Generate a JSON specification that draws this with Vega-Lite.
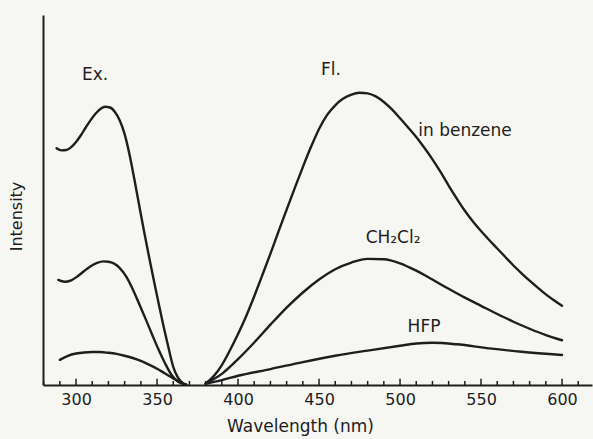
{
  "$schema": "https://vega.github.io/schema/vega-lite/v6.json",
  "width": 549,
  "height": 370,
  "autosize": {"type": "none"},
  "padding": {"left": 43, "top": 15, "right": 1, "bottom": 54},
  "background": "#f6f6f3",
  "config": {"view": {"stroke": null}, "font": "DejaVu Sans"},
  "datasets": {
    "spectra": [
      {"curve": "Ex benzene", "wavelength": 288, "intensity": 64.0},
      {"curve": "Ex benzene", "wavelength": 291, "intensity": 63.4},
      {"curve": "Ex benzene", "wavelength": 294, "intensity": 63.5},
      {"curve": "Ex benzene", "wavelength": 297, "intensity": 64.3},
      {"curve": "Ex benzene", "wavelength": 300, "intensity": 65.7},
      {"curve": "Ex benzene", "wavelength": 303, "intensity": 67.5},
      {"curve": "Ex benzene", "wavelength": 306, "intensity": 69.6},
      {"curve": "Ex benzene", "wavelength": 309, "intensity": 71.6},
      {"curve": "Ex benzene", "wavelength": 312, "intensity": 73.3},
      {"curve": "Ex benzene", "wavelength": 315, "intensity": 74.6},
      {"curve": "Ex benzene", "wavelength": 318, "intensity": 75.2},
      {"curve": "Ex benzene", "wavelength": 321, "intensity": 75.0},
      {"curve": "Ex benzene", "wavelength": 324, "intensity": 73.8},
      {"curve": "Ex benzene", "wavelength": 327, "intensity": 71.5},
      {"curve": "Ex benzene", "wavelength": 330, "intensity": 67.8},
      {"curve": "Ex benzene", "wavelength": 333, "intensity": 62.3},
      {"curve": "Ex benzene", "wavelength": 336, "intensity": 55.6},
      {"curve": "Ex benzene", "wavelength": 339, "intensity": 48.5},
      {"curve": "Ex benzene", "wavelength": 342, "intensity": 41.5},
      {"curve": "Ex benzene", "wavelength": 345, "intensity": 34.8},
      {"curve": "Ex benzene", "wavelength": 348, "intensity": 28.3},
      {"curve": "Ex benzene", "wavelength": 351, "intensity": 22.0},
      {"curve": "Ex benzene", "wavelength": 354, "intensity": 15.9},
      {"curve": "Ex benzene", "wavelength": 357, "intensity": 10.2},
      {"curve": "Ex benzene", "wavelength": 360, "intensity": 4.9},
      {"curve": "Ex benzene", "wavelength": 363, "intensity": 1.9},
      {"curve": "Ex benzene", "wavelength": 366, "intensity": 0.5},
      {"curve": "Ex benzene", "wavelength": 368, "intensity": 0.1},

      {"curve": "Ex CH2Cl2", "wavelength": 289, "intensity": 28.4},
      {"curve": "Ex CH2Cl2", "wavelength": 293, "intensity": 27.9},
      {"curve": "Ex CH2Cl2", "wavelength": 297, "intensity": 28.3},
      {"curve": "Ex CH2Cl2", "wavelength": 301, "intensity": 29.4},
      {"curve": "Ex CH2Cl2", "wavelength": 305, "intensity": 30.8},
      {"curve": "Ex CH2Cl2", "wavelength": 309, "intensity": 32.1},
      {"curve": "Ex CH2Cl2", "wavelength": 313, "intensity": 33.0},
      {"curve": "Ex CH2Cl2", "wavelength": 317, "intensity": 33.4},
      {"curve": "Ex CH2Cl2", "wavelength": 320, "intensity": 33.3},
      {"curve": "Ex CH2Cl2", "wavelength": 324, "intensity": 32.7},
      {"curve": "Ex CH2Cl2", "wavelength": 327, "intensity": 31.6},
      {"curve": "Ex CH2Cl2", "wavelength": 331, "intensity": 29.3},
      {"curve": "Ex CH2Cl2", "wavelength": 335, "intensity": 25.9},
      {"curve": "Ex CH2Cl2", "wavelength": 339, "intensity": 21.9},
      {"curve": "Ex CH2Cl2", "wavelength": 343, "intensity": 17.8},
      {"curve": "Ex CH2Cl2", "wavelength": 347, "intensity": 13.6},
      {"curve": "Ex CH2Cl2", "wavelength": 351, "intensity": 9.5},
      {"curve": "Ex CH2Cl2", "wavelength": 355, "intensity": 5.8},
      {"curve": "Ex CH2Cl2", "wavelength": 359, "intensity": 2.7},
      {"curve": "Ex CH2Cl2", "wavelength": 363, "intensity": 0.9},
      {"curve": "Ex CH2Cl2", "wavelength": 368, "intensity": 0.1},

      {"curve": "Ex HFP", "wavelength": 290, "intensity": 6.8},
      {"curve": "Ex HFP", "wavelength": 295, "intensity": 7.9},
      {"curve": "Ex HFP", "wavelength": 300, "intensity": 8.5},
      {"curve": "Ex HFP", "wavelength": 305, "intensity": 8.8},
      {"curve": "Ex HFP", "wavelength": 310, "intensity": 8.9},
      {"curve": "Ex HFP", "wavelength": 315, "intensity": 8.9},
      {"curve": "Ex HFP", "wavelength": 320, "intensity": 8.7},
      {"curve": "Ex HFP", "wavelength": 325, "intensity": 8.4},
      {"curve": "Ex HFP", "wavelength": 330, "intensity": 7.9},
      {"curve": "Ex HFP", "wavelength": 335, "intensity": 7.3},
      {"curve": "Ex HFP", "wavelength": 340, "intensity": 6.5},
      {"curve": "Ex HFP", "wavelength": 345, "intensity": 5.5},
      {"curve": "Ex HFP", "wavelength": 350, "intensity": 4.4},
      {"curve": "Ex HFP", "wavelength": 355, "intensity": 3.1},
      {"curve": "Ex HFP", "wavelength": 360, "intensity": 1.8},
      {"curve": "Ex HFP", "wavelength": 364, "intensity": 0.8},
      {"curve": "Ex HFP", "wavelength": 368, "intensity": 0.1},

      {"curve": "Fl benzene", "wavelength": 380, "intensity": 0.4},
      {"curve": "Fl benzene", "wavelength": 385, "intensity": 2.4},
      {"curve": "Fl benzene", "wavelength": 390, "intensity": 5.4},
      {"curve": "Fl benzene", "wavelength": 395, "intensity": 9.4},
      {"curve": "Fl benzene", "wavelength": 400, "intensity": 13.8},
      {"curve": "Fl benzene", "wavelength": 405, "intensity": 18.6},
      {"curve": "Fl benzene", "wavelength": 410, "intensity": 24.0},
      {"curve": "Fl benzene", "wavelength": 415, "intensity": 29.7},
      {"curve": "Fl benzene", "wavelength": 420, "intensity": 35.5},
      {"curve": "Fl benzene", "wavelength": 425, "intensity": 41.5},
      {"curve": "Fl benzene", "wavelength": 430, "intensity": 47.4},
      {"curve": "Fl benzene", "wavelength": 435, "intensity": 53.2},
      {"curve": "Fl benzene", "wavelength": 440, "intensity": 58.9},
      {"curve": "Fl benzene", "wavelength": 445, "intensity": 64.3},
      {"curve": "Fl benzene", "wavelength": 450, "intensity": 69.2},
      {"curve": "Fl benzene", "wavelength": 455, "intensity": 73.0},
      {"curve": "Fl benzene", "wavelength": 460, "intensity": 75.6},
      {"curve": "Fl benzene", "wavelength": 465, "intensity": 77.4},
      {"curve": "Fl benzene", "wavelength": 470, "intensity": 78.5},
      {"curve": "Fl benzene", "wavelength": 475, "intensity": 79.0},
      {"curve": "Fl benzene", "wavelength": 480, "intensity": 78.8},
      {"curve": "Fl benzene", "wavelength": 485, "intensity": 78.0},
      {"curve": "Fl benzene", "wavelength": 490, "intensity": 76.5},
      {"curve": "Fl benzene", "wavelength": 495, "intensity": 74.5},
      {"curve": "Fl benzene", "wavelength": 500, "intensity": 72.1},
      {"curve": "Fl benzene", "wavelength": 505, "intensity": 69.6},
      {"curve": "Fl benzene", "wavelength": 510, "intensity": 67.0},
      {"curve": "Fl benzene", "wavelength": 515, "intensity": 64.1},
      {"curve": "Fl benzene", "wavelength": 520, "intensity": 61.0},
      {"curve": "Fl benzene", "wavelength": 525, "intensity": 57.6},
      {"curve": "Fl benzene", "wavelength": 530, "intensity": 53.9},
      {"curve": "Fl benzene", "wavelength": 535, "intensity": 50.4},
      {"curve": "Fl benzene", "wavelength": 540, "intensity": 47.1},
      {"curve": "Fl benzene", "wavelength": 545, "intensity": 44.2},
      {"curve": "Fl benzene", "wavelength": 550, "intensity": 41.6},
      {"curve": "Fl benzene", "wavelength": 555, "intensity": 39.2},
      {"curve": "Fl benzene", "wavelength": 560, "intensity": 36.9},
      {"curve": "Fl benzene", "wavelength": 565, "intensity": 34.6},
      {"curve": "Fl benzene", "wavelength": 570, "intensity": 32.3},
      {"curve": "Fl benzene", "wavelength": 575, "intensity": 30.2},
      {"curve": "Fl benzene", "wavelength": 580, "intensity": 28.2},
      {"curve": "Fl benzene", "wavelength": 585, "intensity": 26.3},
      {"curve": "Fl benzene", "wavelength": 590, "intensity": 24.5},
      {"curve": "Fl benzene", "wavelength": 595, "intensity": 22.9},
      {"curve": "Fl benzene", "wavelength": 600, "intensity": 21.4},

      {"curve": "Fl CH2Cl2", "wavelength": 380, "intensity": 0.4},
      {"curve": "Fl CH2Cl2", "wavelength": 390, "intensity": 3.0},
      {"curve": "Fl CH2Cl2", "wavelength": 400, "intensity": 7.0},
      {"curve": "Fl CH2Cl2", "wavelength": 410, "intensity": 11.5},
      {"curve": "Fl CH2Cl2", "wavelength": 420, "intensity": 16.3},
      {"curve": "Fl CH2Cl2", "wavelength": 430, "intensity": 20.9},
      {"curve": "Fl CH2Cl2", "wavelength": 440, "intensity": 25.0},
      {"curve": "Fl CH2Cl2", "wavelength": 450, "intensity": 28.5},
      {"curve": "Fl CH2Cl2", "wavelength": 460, "intensity": 31.3},
      {"curve": "Fl CH2Cl2", "wavelength": 470, "intensity": 33.1},
      {"curve": "Fl CH2Cl2", "wavelength": 480, "intensity": 34.1},
      {"curve": "Fl CH2Cl2", "wavelength": 490, "intensity": 34.0},
      {"curve": "Fl CH2Cl2", "wavelength": 500, "intensity": 32.9},
      {"curve": "Fl CH2Cl2", "wavelength": 510, "intensity": 30.9},
      {"curve": "Fl CH2Cl2", "wavelength": 520, "intensity": 28.5},
      {"curve": "Fl CH2Cl2", "wavelength": 530, "intensity": 26.0},
      {"curve": "Fl CH2Cl2", "wavelength": 540, "intensity": 23.6},
      {"curve": "Fl CH2Cl2", "wavelength": 550, "intensity": 21.4},
      {"curve": "Fl CH2Cl2", "wavelength": 560, "intensity": 19.2},
      {"curve": "Fl CH2Cl2", "wavelength": 570, "intensity": 17.1},
      {"curve": "Fl CH2Cl2", "wavelength": 580, "intensity": 15.2},
      {"curve": "Fl CH2Cl2", "wavelength": 590, "intensity": 13.5},
      {"curve": "Fl CH2Cl2", "wavelength": 600, "intensity": 12.1},

      {"curve": "Fl HFP", "wavelength": 380, "intensity": 0.3},
      {"curve": "Fl HFP", "wavelength": 390, "intensity": 1.3},
      {"curve": "Fl HFP", "wavelength": 400, "intensity": 2.5},
      {"curve": "Fl HFP", "wavelength": 420, "intensity": 4.3},
      {"curve": "Fl HFP", "wavelength": 440, "intensity": 6.2},
      {"curve": "Fl HFP", "wavelength": 460, "intensity": 7.9},
      {"curve": "Fl HFP", "wavelength": 480, "intensity": 9.3},
      {"curve": "Fl HFP", "wavelength": 500, "intensity": 10.6},
      {"curve": "Fl HFP", "wavelength": 510, "intensity": 11.2},
      {"curve": "Fl HFP", "wavelength": 520, "intensity": 11.4},
      {"curve": "Fl HFP", "wavelength": 535, "intensity": 11.0},
      {"curve": "Fl HFP", "wavelength": 555, "intensity": 9.9},
      {"curve": "Fl HFP", "wavelength": 575, "intensity": 9.0},
      {"curve": "Fl HFP", "wavelength": 600, "intensity": 8.1}
    ],
    "ticks": [
      {"wavelength": 280, "kind": "minor"}, {"wavelength": 290, "kind": "minor"},
      {"wavelength": 300, "kind": "major"}, {"wavelength": 310, "kind": "minor"},
      {"wavelength": 320, "kind": "minor"}, {"wavelength": 330, "kind": "minor"},
      {"wavelength": 340, "kind": "minor"}, {"wavelength": 350, "kind": "major"},
      {"wavelength": 360, "kind": "minor"}, {"wavelength": 370, "kind": "minor"},
      {"wavelength": 380, "kind": "minor"}, {"wavelength": 390, "kind": "minor"},
      {"wavelength": 400, "kind": "major"}, {"wavelength": 410, "kind": "minor"},
      {"wavelength": 420, "kind": "minor"}, {"wavelength": 430, "kind": "minor"},
      {"wavelength": 440, "kind": "minor"}, {"wavelength": 450, "kind": "major"},
      {"wavelength": 460, "kind": "minor"}, {"wavelength": 470, "kind": "minor"},
      {"wavelength": 480, "kind": "minor"}, {"wavelength": 490, "kind": "minor"},
      {"wavelength": 500, "kind": "major"}, {"wavelength": 510, "kind": "minor"},
      {"wavelength": 520, "kind": "minor"}, {"wavelength": 530, "kind": "minor"},
      {"wavelength": 540, "kind": "minor"}, {"wavelength": 550, "kind": "major"},
      {"wavelength": 560, "kind": "minor"}, {"wavelength": 570, "kind": "minor"},
      {"wavelength": 580, "kind": "minor"}, {"wavelength": 590, "kind": "minor"},
      {"wavelength": 600, "kind": "major"}, {"wavelength": 610, "kind": "minor"}
    ],
    "labels": [
      {"label": "Ex.", "wavelength": 311.7, "intensity": 83.8},
      {"label": "Fl.", "wavelength": 457.4, "intensity": 85.1},
      {"label": "in benzene", "wavelength": 540.1, "intensity": 68.6},
      {"label": "CH₂Cl₂", "wavelength": 495.7, "intensity": 39.7},
      {"label": "HFP", "wavelength": 514.8, "intensity": 15.8}
    ]
  },
  "layer": [
    {
      "data": {"name": "spectra"},
      "mark": {"type": "line", "interpolate": "monotone", "color": "#1e1e1e", "strokeWidth": 2.4, "strokeCap": "round"},
      "encoding": {
        "x": {
          "field": "wavelength",
          "type": "quantitative",
          "scale": {"domain": [279.6, 618.5], "nice": false, "zero": false},
          "axis": {
            "values": [300, 350, 400, 450, 500, 550, 600],
            "ticks": false,
            "domainColor": "#1e1e1e",
            "domainWidth": 2,
            "grid": false,
            "labelFontSize": 16,
            "labelColor": "#1e1e1e",
            "labelPadding": 6,
            "labelOverlap": false,
            "labelFlush": false,
            "title": "Wavelength (nm)",
            "titleFontSize": 17,
            "titleFontWeight": "normal",
            "titleColor": "#1e1e1e",
            "titleX": 257,
            "titleY": 41,
            "titleBaseline": "middle"
          }
        },
        "y": {
          "field": "intensity",
          "type": "quantitative",
          "scale": {"domain": [0, 100], "nice": false},
          "axis": {
            "ticks": false,
            "labels": false,
            "grid": false,
            "domainColor": "#1e1e1e",
            "domainWidth": 2,
            "title": "Intensity",
            "titleFontSize": 16,
            "titleFontWeight": "normal",
            "titleColor": "#1e1e1e",
            "titleAngle": -90,
            "titleX": -27,
            "titleY": 201,
            "titleAlign": "center",
            "titleBaseline": "middle"
          }
        },
        "detail": {"field": "curve"}
      }
    },
    {
      "data": {"name": "ticks"},
      "transform": [{"filter": "datum.kind === 'minor'"}],
      "mark": {"type": "rule", "color": "#1e1e1e", "strokeWidth": 1.5},
      "encoding": {
        "x": {"field": "wavelength", "type": "quantitative"},
        "y": {"datum": 0},
        "y2": {"datum": 1.1}
      }
    },
    {
      "data": {"name": "ticks"},
      "transform": [{"filter": "datum.kind === 'major'"}],
      "mark": {"type": "rule", "color": "#1e1e1e", "strokeWidth": 1.5},
      "encoding": {
        "x": {"field": "wavelength", "type": "quantitative"},
        "y": {"datum": 0},
        "y2": {"datum": 1.7}
      }
    },
    {
      "data": {"name": "labels"},
      "mark": {"type": "text", "fontSize": 17, "color": "#1e1e1e", "align": "center", "baseline": "middle"},
      "encoding": {
        "x": {"field": "wavelength", "type": "quantitative"},
        "y": {"field": "intensity", "type": "quantitative"},
        "text": {"field": "label"}
      }
    }
  ]
}
